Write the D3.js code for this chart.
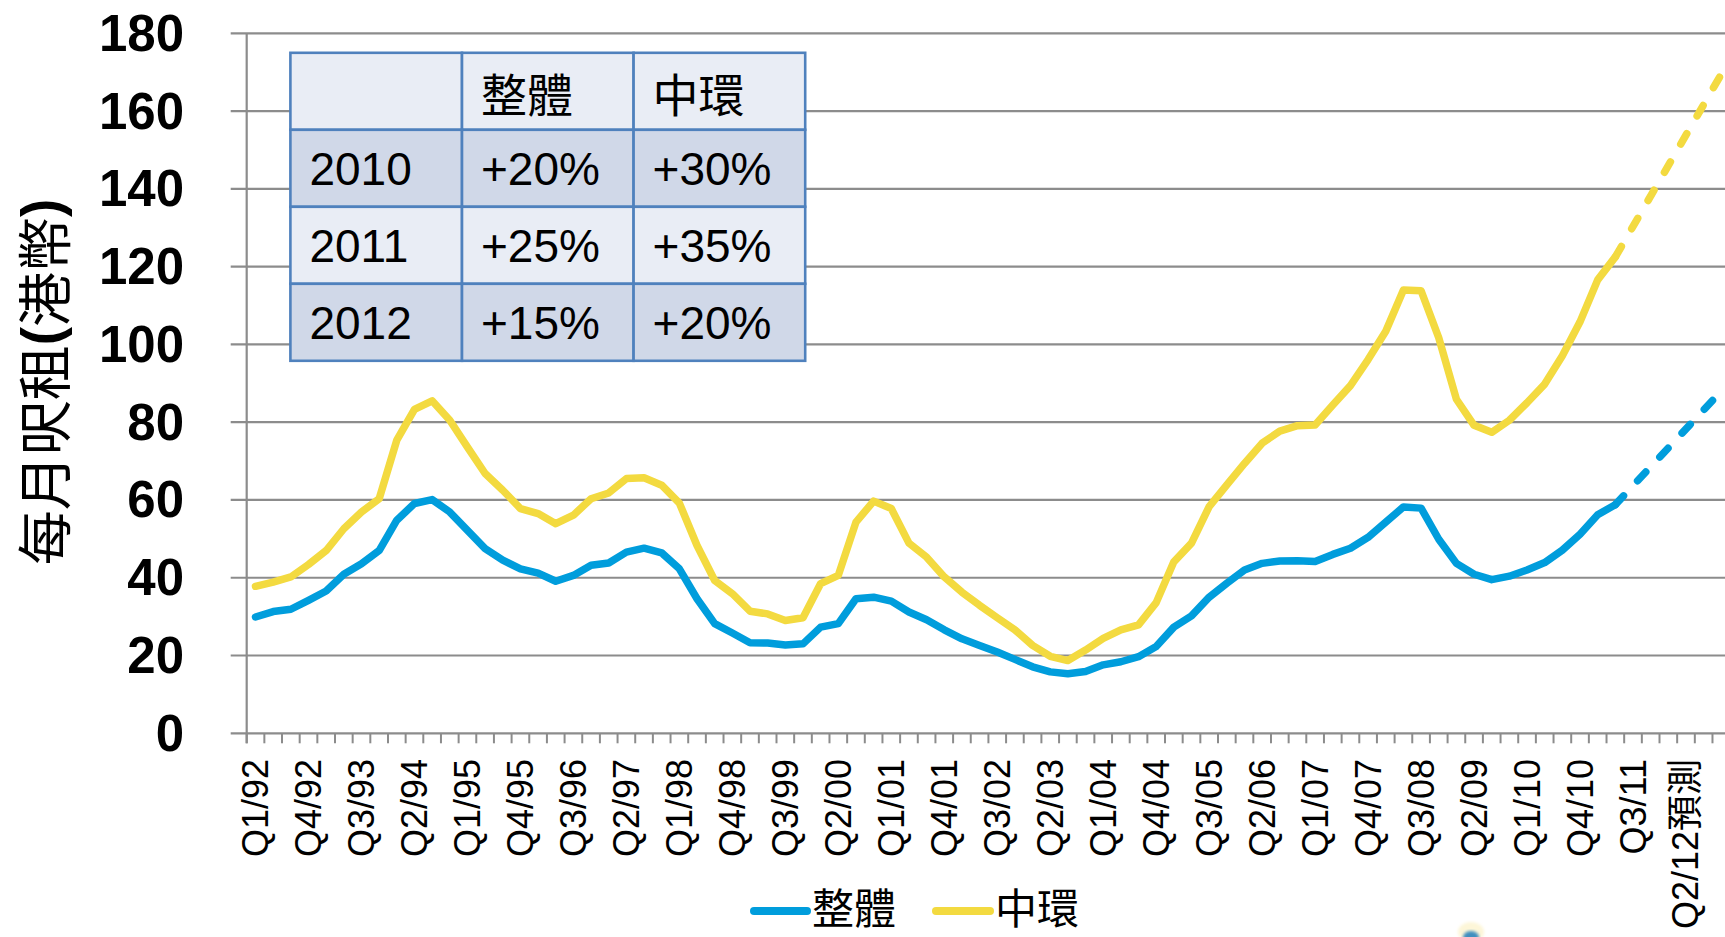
<!DOCTYPE html>
<html>
<head>
<meta charset="utf-8">
<script src="https://cdn.jsdelivr.net/npm/d3@7"></script>
<style>
  html, body { margin: 0; padding: 0; background: #ffffff; overflow: hidden; }
  svg { display: block; }
</style>
</head>
<body>
<svg id="chart" width="1725" height="937"></svg>
<script>
// Quarterly office rent per sq ft (HK$), Q1/92 onwards
const quarters = [];
for (let yr = 1992; yr <= 2012; yr++) {
  for (let q = 1; q <= 4; q++) quarters.push(`Q${q}/${String(yr % 100).padStart(2, "0")}`);
}

// 整體 (overall market), Q1/92 – Q2/11
const overallRent = [
  29.9, 31.3, 31.9, 34.2, 36.6, 40.9, 43.6, 47.0, 54.8, 59.1,
  60.1, 56.9, 52.2, 47.5, 44.5, 42.3, 41.2, 39.1, 40.6, 43.2,
  43.8, 46.6, 47.6, 46.4, 42.3, 34.6, 28.2, 25.8, 23.3, 23.2,
  22.7, 23.0, 27.3, 28.2, 34.6, 35.0, 34.0, 31.2, 29.2, 26.6,
  24.3, 22.6, 20.9, 19.0, 17.1, 15.8, 15.3, 15.9, 17.6, 18.4,
  19.7, 22.3, 27.3, 30.2, 35.0, 38.6, 42.0, 43.7, 44.3, 44.4,
  44.2, 46.0, 47.6, 50.4, 54.3, 58.2, 57.9, 49.9, 43.7, 40.9,
  39.5, 40.4, 42.0, 43.9, 47.1, 51.2, 56.2, 58.8
];

// 中環 (Central), Q1/92 – Q2/11
const centralRent = [
  37.8, 38.9, 40.2, 43.4, 47.0, 52.6, 56.9, 60.3, 75.4, 83.3,
  85.5, 80.5, 73.6, 66.8, 62.5, 57.8, 56.5, 53.9, 56.1, 60.3,
  61.8, 65.5, 65.7, 63.8, 59.2, 48.3, 39.3, 35.9, 31.4, 30.7,
  29.0, 29.7, 38.5, 40.6, 54.3, 59.7, 57.8, 48.9, 45.3, 40.2,
  36.3, 32.9, 29.7, 26.6, 22.6, 19.8, 18.7, 21.4, 24.4, 26.6,
  27.9, 33.6, 44.1, 48.9, 58.3, 63.9, 69.4, 74.6, 77.7, 79.1,
  79.3, 84.4, 89.4, 96.1, 103.4, 114.0, 113.8, 101.7, 85.9, 79.2,
  77.4, 80.5, 85.0, 89.8, 97.1, 105.8, 116.6, 122.5
];

// Forecast segment (dashed)
const forecastQuarters = ["Q2/11", "Q4/12"];
const overallForecast = [58.8, 88.0];
const centralForecast = [122.5, 169.5];

const yTicks = [0, 20, 40, 60, 80, 100, 120, 140, 160, 180];
const xTickLabels = [
  "Q1/92", "Q4/92", "Q3/93", "Q2/94", "Q1/95", "Q4/95", "Q3/96", "Q2/97",
  "Q1/98", "Q4/98", "Q3/99", "Q2/00", "Q1/01", "Q4/01", "Q3/02", "Q2/03",
  "Q1/04", "Q4/04", "Q3/05", "Q2/06", "Q1/07", "Q4/07", "Q3/08", "Q2/09",
  "Q1/10", "Q4/10", "Q3/11", "Q2/12預測"
];

// Growth-rate table
const tableHeader = ["", "整體", "中環"];
const tableRows = [
  ["2010", "+20%", "+30%"],
  ["2011", "+25%", "+35%"],
  ["2012", "+15%", "+20%"]
];

const seriesNames = ["整體", "中環"];
const seriesColors = ["#009ddc", "#f3da40"];

const svg = d3.select("#chart");
const plotLeft = 246.7, plotTop = 33.3, plotBottom = 733.3;
const catW = 17.66;

const x = d3.scaleBand().domain(quarters).range([plotLeft, plotLeft + catW * quarters.length]).padding(0);
const cx = q => x(q) + x.bandwidth() / 2;
const y = d3.scaleLinear().domain([0, 180]).range([plotBottom, plotTop]);

const gridColor = "#8c8c8c";
const latin = "'Liberation Sans', Arial, 'Noto Sans CJK TC', sans-serif";
const cjk = "'Noto Sans CJK TC', 'Noto Sans CJK SC', sans-serif";

// Horizontal gridlines (extend left past the axis as outside tick marks)
svg.append("g").selectAll("line").data(yTicks).join("line")
  .attr("x1", plotLeft - 16).attr("x2", x.range()[1])
  .attr("y1", d => y(d)).attr("y2", d => y(d))
  .attr("stroke", gridColor).attr("stroke-width", 2.2);

// Value axis line
svg.append("line")
  .attr("x1", plotLeft).attr("x2", plotLeft).attr("y1", plotTop).attr("y2", plotBottom + 10)
  .attr("stroke", gridColor).attr("stroke-width", 2.2);

// Category tick marks between quarters
const boundaries = quarters.map(q => x(q)).concat([x.range()[1]]);
svg.append("g").selectAll("line").data(boundaries).join("line")
  .attr("x1", d => d).attr("x2", d => d)
  .attr("y1", plotBottom).attr("y2", plotBottom + 10)
  .attr("stroke", gridColor).attr("stroke-width", 2);

// Value tick labels
svg.append("g").selectAll("text").data(yTicks).join("text")
  .attr("x", 184).attr("y", d => y(d))
  .attr("text-anchor", "end").attr("dominant-baseline", "central")
  .attr("font-family", latin).attr("font-weight", "bold").attr("font-size", 51)
  .attr("fill", "#000").text(d => d);

// Category labels, every third quarter
svg.append("g").selectAll("text").data(xTickLabels).join("text")
  .attr("transform", (d, i) => `translate(${cx(quarters[i * 3])},759) rotate(-90)`)
  .attr("text-anchor", "end").attr("dominant-baseline", "central")
  .attr("font-family", latin).attr("font-size", 36).attr("fill", "#000")
  .text(d => d);

// Value axis title
const title = svg.append("text")
  .attr("transform", "translate(41,382) rotate(-90)")
  .attr("text-anchor", "middle").attr("dominant-baseline", "central")
  .attr("font-family", cjk).attr("font-size", 55).attr("fill", "#000");
title.append("tspan").text("每月呎租");
title.append("tspan").attr("font-family", latin).attr("font-weight", "bold").text("(");
title.append("tspan").text("港幣");
title.append("tspan").attr("font-family", latin).attr("font-weight", "bold").text(")");

// Lines
const line = d3.line().x(d => cx(d.q)).y(d => y(d.v));
const actual = [overallRent, centralRent];
const forecast = [overallForecast, centralForecast];

actual.forEach((vals, s) => {
  svg.append("path")
    .datum(vals.map((v, i) => ({ q: quarters[i], v })))
    .attr("d", line).attr("fill", "none")
    .attr("stroke", seriesColors[s]).attr("stroke-width", 7.5)
    .attr("stroke-linejoin", "round").attr("stroke-linecap", "round");
});
forecast.forEach((vals, s) => {
  svg.append("path")
    .datum(vals.map((v, i) => ({ q: forecastQuarters[i], v })))
    .attr("d", line).attr("fill", "none")
    .attr("stroke", seriesColors[s]).attr("stroke-width", 7.5)
    .attr("stroke-dasharray", "12 20.6")
    .attr("stroke-linecap", "round");
});

// Growth table
const tX = 290.4, tY = 52.8, colW = 171.6, rowH = 77;
const rowFills = ["#e9edf5", "#d0d8e8", "#e9edf5", "#d0d8e8"];
const allRows = [tableHeader].concat(tableRows);
const tg = svg.append("g");
allRows.forEach((row, r) => {
  row.forEach((cell, c) => {
    tg.append("rect")
      .attr("x", tX + c * colW).attr("y", tY + r * rowH)
      .attr("width", colW).attr("height", rowH)
      .attr("fill", rowFills[r]).attr("stroke", "#4f81bd").attr("stroke-width", 2.6);
    tg.append("text")
      .attr("x", tX + c * colW + 19).attr("y", tY + r * rowH + rowH / 2 + 1)
      .attr("dominant-baseline", "central")
      .attr("font-family", r === 0 ? cjk : latin).attr("font-size", 46)
      .attr("fill", "#000").text(cell);
  });
});

// Legend
const legendItems = [
  { name: seriesNames[0], color: seriesColors[0], x1: 754, x2: 807, tx: 812 },
  { name: seriesNames[1], color: seriesColors[1], x1: 936, x2: 990, tx: 995 }
];
const lg = svg.append("g");
legendItems.forEach(d => {
  lg.append("line").attr("x1", d.x1).attr("x2", d.x2).attr("y1", 911).attr("y2", 911)
    .attr("stroke", d.color).attr("stroke-width", 8).attr("stroke-linecap", "round");
  lg.append("text").attr("x", d.tx).attr("y", 924)
    .attr("font-family", cjk).attr("font-size", 42).attr("fill", "#000").text(d.name);
});

// Small emblem at the bottom edge
const defs = svg.append("defs");
defs.append("filter").attr("id", "soft").append("feGaussianBlur").attr("stdDeviation", 1.6);
svg.append("ellipse").attr("cx", 1471).attr("cy", 932).attr("rx", 13).attr("ry", 10)
  .attr("fill", "#fdf6d8").attr("filter", "url(#soft)");
svg.append("ellipse").attr("cx", 1471).attr("cy", 937).attr("rx", 8).attr("ry", 6)
  .attr("fill", "#3f8fbf").attr("filter", "url(#soft)");
</script>
</body>
</html>
